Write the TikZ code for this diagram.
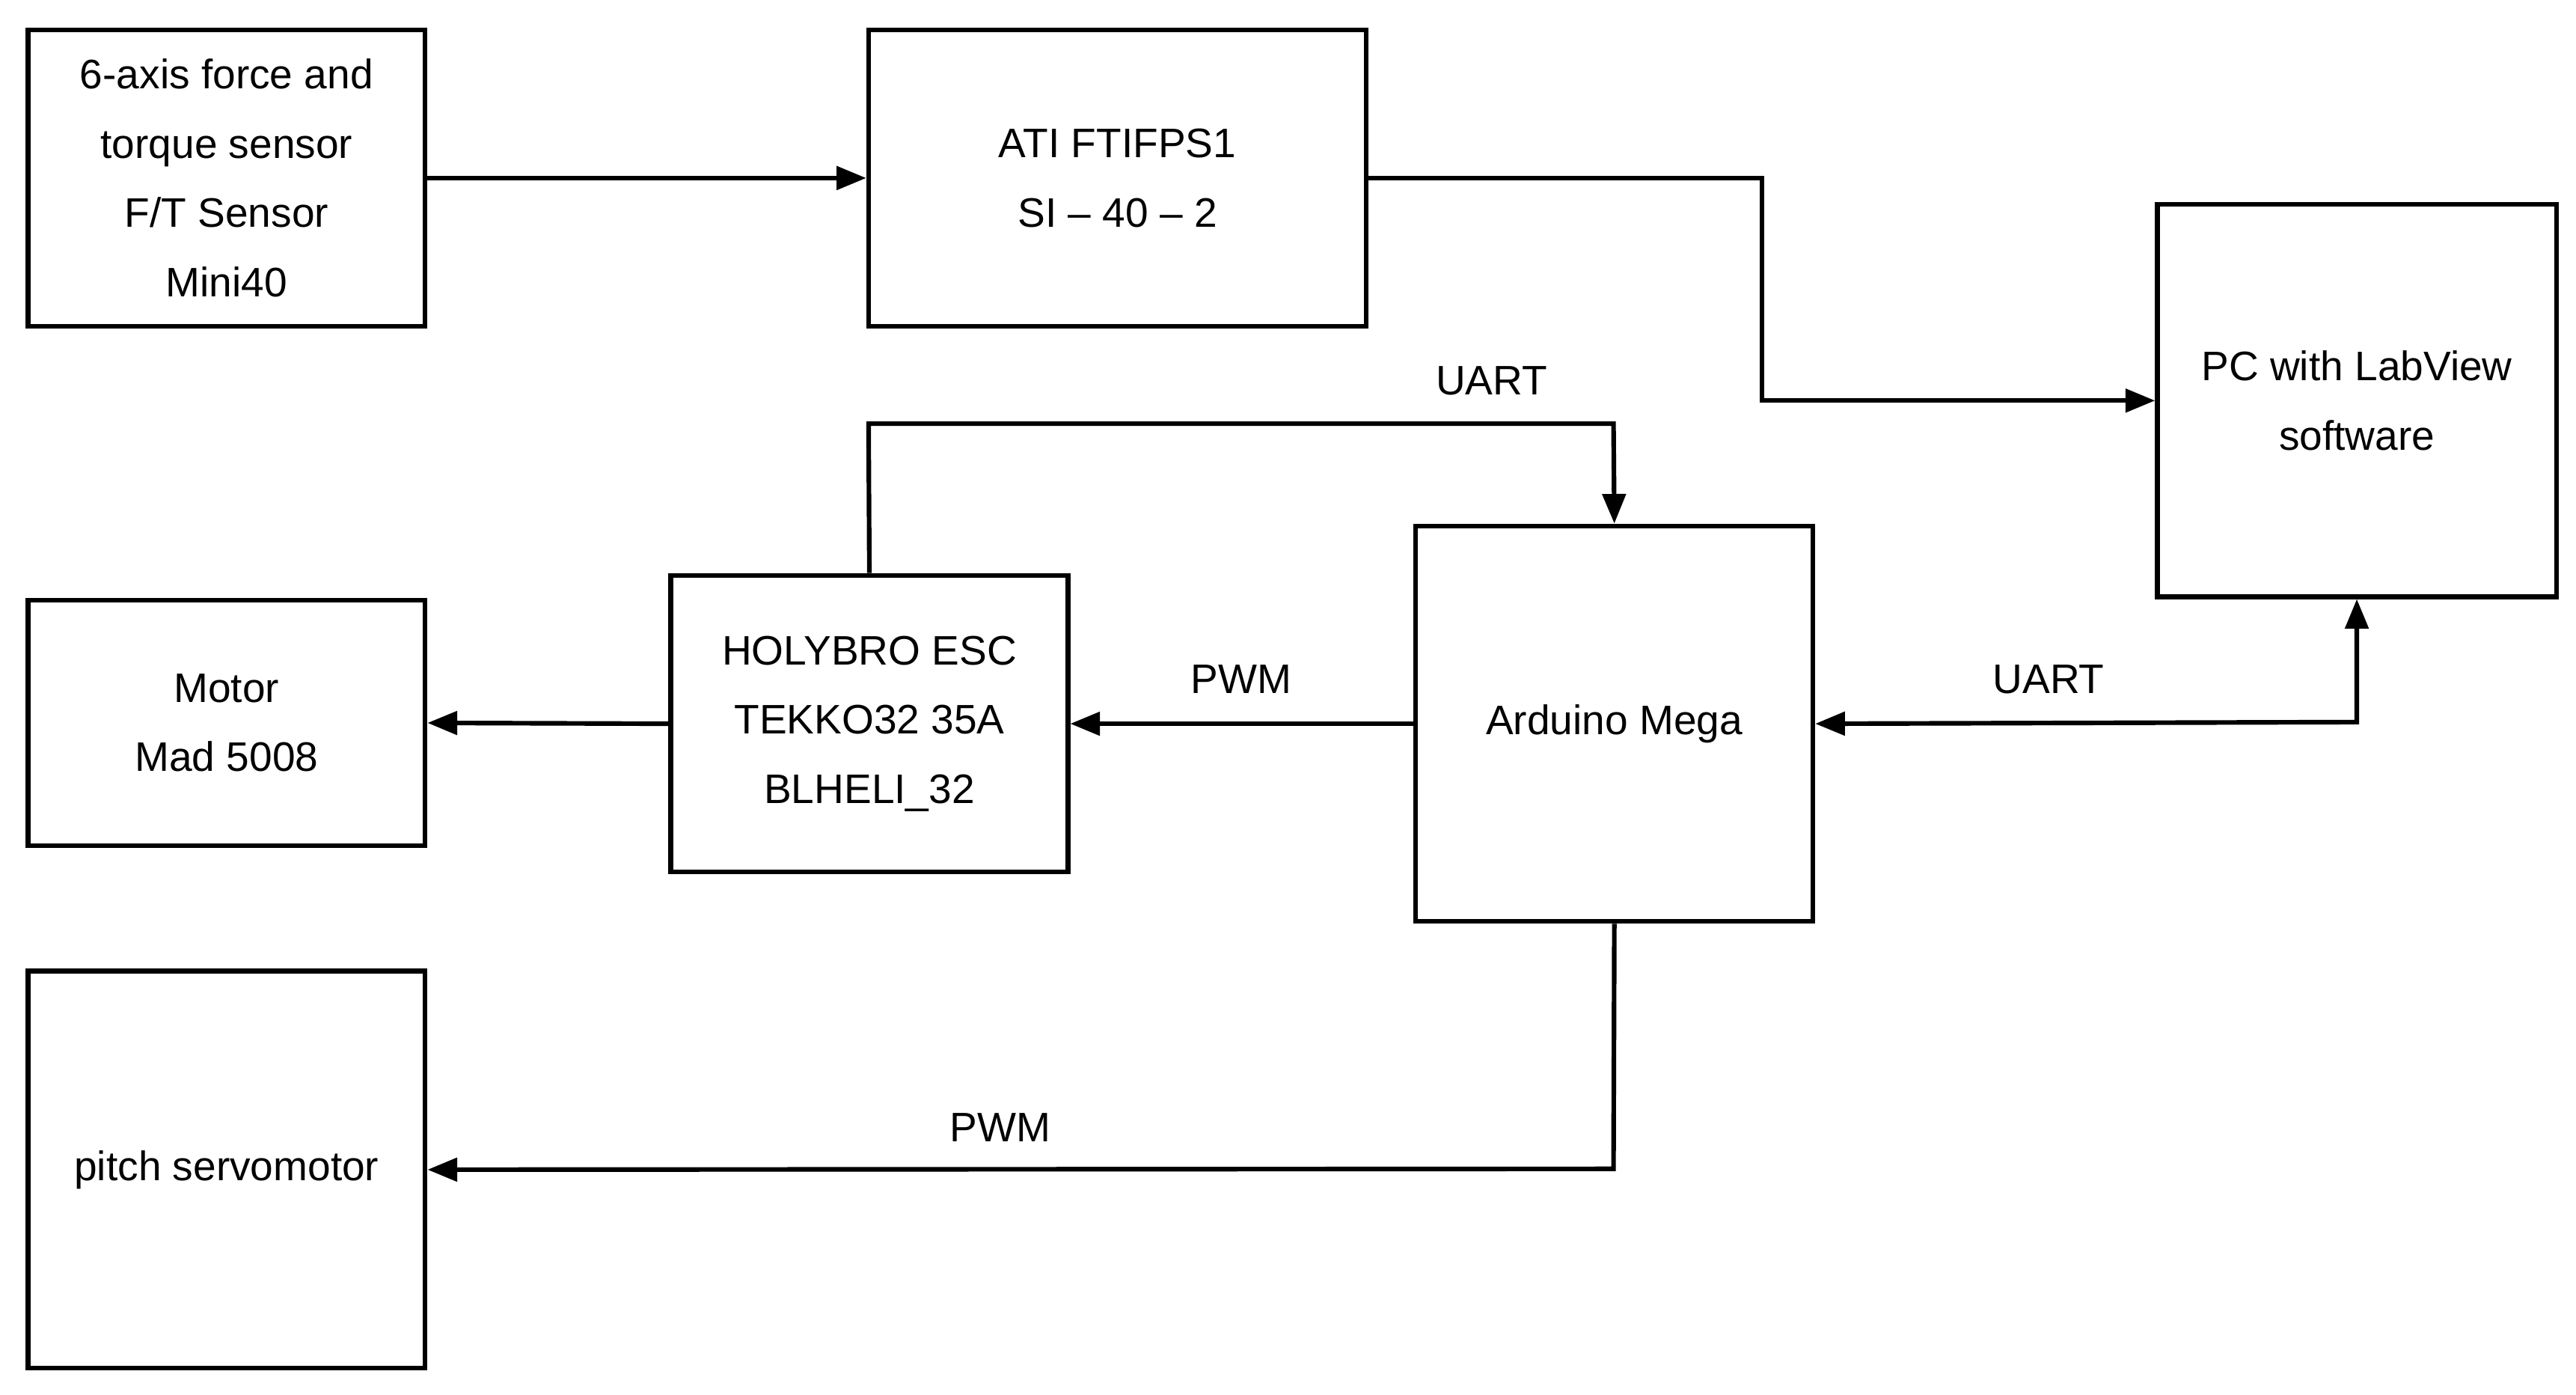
\documentclass[tikz,border=0pt]{standalone}
\usepackage{fontspec}
\setmainfont{Liberation Sans}
\usetikzlibrary{arrows.meta}
\begin{document}
\begin{tikzpicture}[x=0.5pt,y=-0.5pt,
  box/.style={draw,line width=1.4pt,inner sep=0pt,align=center,font=\fontsize{12.5}{21}\selectfont},
  arr/.style={line width=1.4pt,-{Triangle[length=9pt,width=7pt]}},
  lab/.style={font=\fontsize{12.5}{15}\selectfont}]
\useasboundingbox (0,0) rectangle (1563,846);
\fill[white] (0,0) rectangle (1563,846);
\node[box,minimum width=120.5pt,minimum height=90pt] (sen) at (137.5,108) {6-axis force and\\torque sensor\\F/T Sensor\\Mini40};
\node[box,minimum width=151pt,minimum height=90pt] (ati) at (678,108) {ATI FTIFPS1\\SI -- 40 -- 2};
\node[box,minimum width=121pt,minimum height=119pt] (pc) at (1430,243) {PC with LabView\\software};
\node[box,minimum width=120.5pt,minimum height=90pt] (esc) at (527.5,439) {HOLYBRO ESC\\TEKKO32 35A\\BLHELI\_32};
\node[box,minimum width=120.5pt,minimum height=120pt] (ard) at (979.5,439) {Arduino Mega};
\node[box,minimum width=120.5pt,minimum height=74.5pt] (mot) at (137.5,438.5) {Motor\\Mad 5008};
\node[box,minimum width=120.5pt,minimum height=120.5pt] (ser) at (137.5,709.5) {pitch servomotor};
\coordinate (c1) at (1069,108);
\coordinate (c2) at (1069,243);
\coordinate (c3) at (527,257);
\coordinate (c4) at (979,257);
\coordinate (c5) at (979,709);
\coordinate (c6) at (1430,438);
\draw[arr] (sen.east) -- (ati.west);
\draw[arr] (ati.east) -- (c1) -- (c2) -- (pc.west);
\draw[arr] (esc.north) -- (c3) -- (c4) -- (ard.north);
\draw[arr] (ard.west) -- (esc.east);
\draw[arr] (esc.west) -- (mot.east);
\draw[arr] (ard.south) -- (c5) -- (ser.east);
\draw[arr,{Triangle[length=9pt,width=7pt]}-{Triangle[length=9pt,width=7pt]}] (ard.east) -- (c6) -- (pc.south);
\node[lab] (l1) at (905,231) {UART};
\node[lab] (l2) at (753,412) {PWM};
\node[lab] (l3) at (1243,412) {UART};
\node[lab] (l4) at (607,684) {PWM};
\end{tikzpicture}
\end{document}
